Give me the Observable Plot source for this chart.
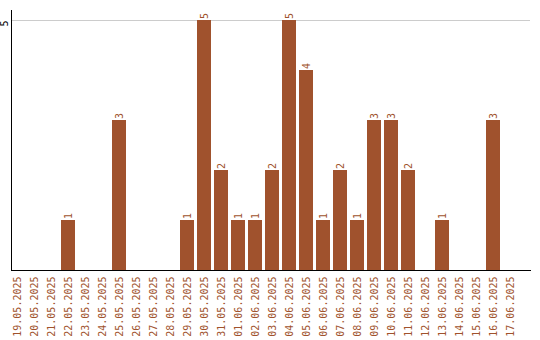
<!DOCTYPE html>
<html>
<head>
<meta charset="utf-8">
<script src="https://cdn.jsdelivr.net/npm/d3@7"></script>
<script src="https://cdn.jsdelivr.net/npm/@observablehq/plot@0.6"></script>
<style>
  html, body { margin: 0; padding: 0; background: #fff; }
  #chart { width: 540px; height: 340px; }
</style>
</head>
<body>
<div id="chart"></div>
<script>
const dates = [
  "19.05.2025","20.05.2025","21.05.2025","22.05.2025","23.05.2025","24.05.2025",
  "25.05.2025","26.05.2025","27.05.2025","28.05.2025","29.05.2025","30.05.2025",
  "31.05.2025","01.06.2025","02.06.2025","03.06.2025","04.06.2025","05.06.2025",
  "06.06.2025","07.06.2025","08.06.2025","09.06.2025","10.06.2025","11.06.2025",
  "12.06.2025","13.06.2025","14.06.2025","15.06.2025","16.06.2025","17.06.2025"
];
const counts = [0,0,0,1,0,0,3,0,0,0,1,5,2,1,1,2,5,4,1,2,1,3,3,2,0,1,0,0,3,0];
const yTicks = [5];

const data = dates.map((d, i) => ({date: d, count: counts[i]}));
const nonZero = data.filter(d => d.count > 0);

const color = "#a0522d";
const font = "DejaVu Sans Mono";

const chart = Plot.plot({
  width: 540,
  height: 340,
  marginTop: 10,
  marginBottom: 70,
  marginLeft: 11,
  marginRight: 10,
  style: {fontFamily: font, fontSize: "10px", background: "#fff"},
  x: {type: "band", domain: dates, range: [8.5, 518.5], paddingInner: 3/17, paddingOuter: 1.5/17, align: 0.5},
  y: {domain: [0, 5.2], range: [270, 10], axis: null},
  marks: [
    Plot.gridY(yTicks, {stroke: "#cccccc", strokeOpacity: 1}),
    Plot.barY(nonZero, {x: "date", y: "count", fill: color}),
    Plot.text(nonZero, {x: "date", y: "count", text: d => String(d.count), rotate: -90, textAnchor: "start", dy: -1.5, fill: color, fontSize: 10, fontFamily: font}),
    Plot.axisX({tickSize: 0, tickPadding: 6, tickRotate: -90, fill: color, fontSize: 10, fontFamily: font, label: null}),
    Plot.text(yTicks, {y: d => d, text: d => String(d), frameAnchor: "left", dx: -7, rotate: -90, textAnchor: "end", fill: "#000", fontSize: 10, fontFamily: font}),
    Plot.frame({anchor: "left", stroke: "#000", strokeOpacity: 1}),
    Plot.frame({anchor: "bottom", stroke: "#000", strokeOpacity: 1})
  ]
});
document.getElementById("chart").appendChild(chart);
</script>
</body>
</html>
